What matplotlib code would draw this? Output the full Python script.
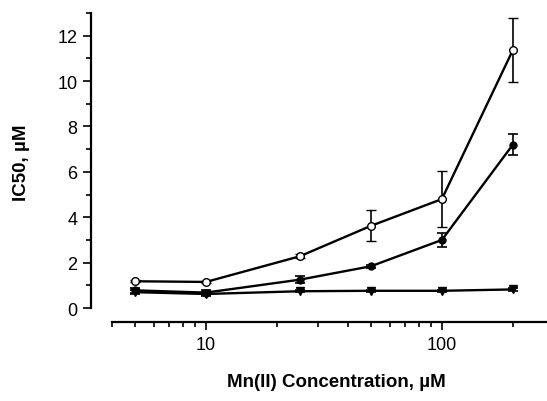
import matplotlib
matplotlib.use("Agg")
import matplotlib.pyplot as plt
from matplotlib.ticker import LogLocator, NullFormatter, FixedLocator, MultipleLocator

plt.rcParams['font.family'] = ['Liberation Sans', 'DejaVu Sans']

conc = [5, 10, 25, 50, 100, 200]
open_vals = [1.18, 1.15, 2.28, 3.62, 4.80, 11.37]
open_err = [0.05, 0.06, 0.08, 0.68, 1.22, 1.42]
filled_vals = [0.78, 0.68, 1.25, 1.84, 3.00, 7.20]
filled_err = [0.10, 0.12, 0.15, 0.06, 0.30, 0.45]
tri_vals = [0.70, 0.62, 0.74, 0.76, 0.76, 0.82]
tri_err = [0.08, 0.10, 0.05, 0.05, 0.05, 0.05]

xticks = [10, 100]
xticklabels = ["10", "100"]
yticks = [0, 2, 4, 6, 8, 10, 12]

W, H = 547, 402
fig = plt.figure(figsize=(W/100, H/100), dpi=100)
ax = fig.add_axes([112/W, 1 - 323/H, (W - 112)/W, (323 - 14)/H])

common = dict(color='black', lw=1.7, elinewidth=1.2, capsize=3.5, capthick=1.2)
ax.errorbar(conc, tri_vals, yerr=tri_err, marker='v', ms=6, mfc='black', mec='black', **common)
ax.errorbar(conc, filled_vals, yerr=filled_err, marker='o', ms=5, mfc='black', mec='black', **common)
ax.errorbar(conc, open_vals, yerr=open_err, marker='o', ms=5.5, mfc='white', mec='black', mew=1.0, **common)

ax.set_xscale('log')
ax.set_xlim(4, 279)
ax.set_ylim(-0.615, 13)

ax.spines['top'].set_visible(False)
ax.spines['right'].set_visible(False)
ax.spines['left'].set_position(('outward', 15))
ax.spines['left'].set_bounds(0, 13)
ax.spines['left'].set_linewidth(1.6)
ax.spines['bottom'].set_linewidth(1.6)

ax.xaxis.set_major_locator(FixedLocator(xticks))
ax.set_xticklabels(xticklabels)
ax.xaxis.set_minor_locator(LogLocator(base=10, subs=range(2, 10)))
ax.xaxis.set_minor_formatter(NullFormatter())
ax.set_yticks(yticks)
ax.yaxis.set_minor_locator(MultipleLocator(1))

ax.tick_params(axis='both', which='major', direction='out', length=6, width=1.2, labelsize=13, pad=4)
ax.tick_params(axis='both', which='minor', direction='out', length=3.5, width=1.2)

ax.set_xlabel("Mn(II) Concentration, µM", fontsize=13.5, fontweight='bold')
ax.set_ylabel("IC50, µM", fontsize=13.5, fontweight='bold')
ax.xaxis.set_label_coords((336 - 112)/(W - 112), -(383 - 323)/(323 - 14))
ax.yaxis.set_label_coords(-(112 - 22)/(W - 112), (323 - 163)/(323 - 14))
ax.xaxis.label.set_va('center')
ax.yaxis.label.set_va('center')

fig.savefig("out.png", dpi=100)
